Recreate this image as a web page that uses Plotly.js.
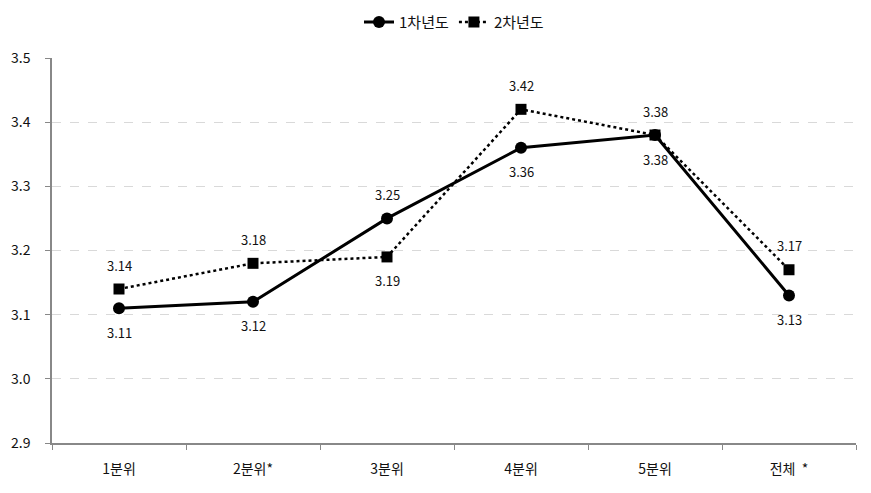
<!DOCTYPE html>
<html><head><meta charset="utf-8">
<script src="https://cdn.plot.ly/plotly-3.0.1.min.js"></script>
<style>body{margin:0;background:#fff}#c{width:871px;height:493px}</style>
</head><body><div id="c"></div>
<script>
const categories = ["1분위", "2분위*", "3분위", "4분위", "5분위", "전체\u00a0\u00a0*"];
const seriesNames = ["1차년도", "2차년도"];
const year1 = [3.11, 3.12, 3.25, 3.36, 3.38, 3.13];
const year2 = [3.14, 3.18, 3.19, 3.42, 3.38, 3.17];
// label placement: +1 above, -1 below
const year1LabelSide = [-1, -1, 1, -1, -1, -1];
const year2LabelSide = [1, 1, -1, 1, 1, 1];

const font = "'Noto Sans CJK KR', 'Noto Sans', sans-serif";
const traces = [
  {x: categories, y: year1, name: seriesNames[0], type: 'scatter', mode: 'lines+markers',
   line: {color: '#000', width: 3}, marker: {symbol: 'circle', size: 12, color: '#000'}},
  {x: categories, y: year2, name: seriesNames[1], type: 'scatter', mode: 'lines+markers',
   line: {color: '#000', width: 2.5, dash: 'dot'}, marker: {symbol: 'square', size: 11, color: '#000'}}
];
const annotations = [];
function addLabels(vals, sides) {
  vals.forEach((v, i) => annotations.push({x: categories[i], y: v, text: v.toFixed(2), showarrow: false,
    yshift: 24 * sides[i], font: {family: font, size: 13, color: '#111'}}));
}
addLabels(year1, year1LabelSide);
addLabels(year2, year2LabelSide);

const layout = {
  width: 871, height: 493,
  margin: {l: 52, r: 15, t: 58, b: 50},
  paper_bgcolor: '#fff', plot_bgcolor: '#fff',
  font: {family: font, size: 14, color: '#111'},
  showlegend: true,
  legend: {orientation: 'h', x: 0.5, xanchor: 'center', yref: 'container', y: 0.955, yanchor: 'middle',
    font: {family: font, size: 15, color: '#111'}},
  xaxis: {type: 'category', range: [-0.5, 5.5], showgrid: false, showline: true, linecolor: '#888', linewidth: 1.5,
    ticks: 'outside', tickson: 'boundaries', ticklen: 5, tickcolor: '#888',
    ticklabelstandoff: 12, tickfont: {family: font, size: 14, color: '#111'}},
  yaxis: {range: [2.9, 3.5], dtick: 0.1, tickformat: '.1f', showline: true, linecolor: '#888', linewidth: 1.5,
    ticks: 'outside', ticklen: 5, tickcolor: '#888', ticklabelstandoff: 12,
    showgrid: true, gridcolor: '#d9d9d9', griddash: 'dash', zeroline: false,
    tickfont: {family: font, size: 14, color: '#111'}},
  annotations: annotations
};
Plotly.newPlot('c', traces, layout, {displayModeBar: false});
</script></body></html>
